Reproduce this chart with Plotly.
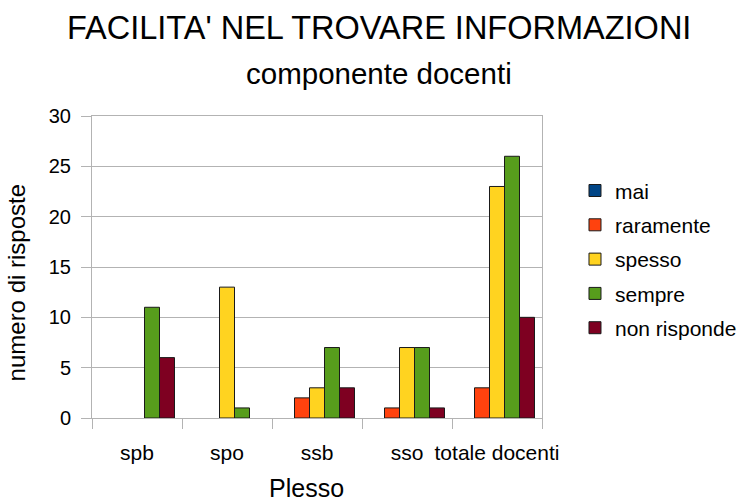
import plotly.graph_objects as go

# categories (plessi) and answers
plessi = ['spb', 'spo', 'ssb', 'sso', 'totale docenti']
risposte = ['mai', 'raramente', 'spesso', 'sempre', 'non risponde']

mai = [0, 0, 0, 0, 0]
raramente = [0, 0, 2, 1, 3]
spesso = [0, 13, 3, 7, 23]
sempre = [11, 1, 7, 7, 26]
non_risponde = [6, 0, 3, 1, 10]

valori = [mai, raramente, spesso, sempre, non_risponde]
colori = ['#004586', '#ff420e', '#ffd320', '#579d1c', '#7e0021']

FONT = 'Liberation Sans, Arial, sans-serif'
GRIGIO = '#b3b3b3'

fig = go.Figure()

for nome, serie, colore in zip(risposte, valori, colori):
    # zero answers draw no bar at all (no outline on the axis)
    y = [v if v else None for v in serie]
    fig.add_trace(go.Bar(
        x=plessi, y=y, name=nome, legendgroup=nome,
        marker=dict(color=colore, line=dict(color='#1a1a1a', width=1)),
    ))

fig.update_layout(
    width=742, height=501,
    margin=dict(l=92, r=200, t=116, b=83, autoexpand=False),
    paper_bgcolor='white', plot_bgcolor='white',
    font=dict(family=FONT, color='black', size=20),
    barmode='group', bargap=0.1667, bargroupgap=0,
    showlegend=True,
    legend=dict(
        x=1.0733, y=0.82, xanchor='left', yanchor='top',
        font=dict(size=21), traceorder='grouped', tracegroupgap=4,
        bgcolor='rgba(0,0,0,0)',
    ),
    xaxis=dict(
        showline=True, linecolor=GRIGIO, linewidth=1, mirror=True,
        ticks='outside', ticklen=10, tickcolor=GRIGIO,
        tickson='boundaries', showgrid=False, tickangle=0, automargin=False,
        tickfont=dict(size=21), ticklabelstandoff=16,
    ),
    yaxis=dict(
        range=[0, 30], dtick=5, automargin=False,
        showline=True, linecolor=GRIGIO, linewidth=1, mirror=True,
        ticks='outside', ticklen=10, tickcolor=GRIGIO,
        showgrid=True, gridcolor=GRIGIO, gridwidth=1, zeroline=False,
        tickfont=dict(size=20), ticklabelstandoff=6,
    ),
    annotations=[
        dict(text="FACILITA' NEL TROVARE INFORMAZIONI", x=0.638, y=1.29,
             xref='paper', yref='paper', showarrow=False,
             xanchor='center', yanchor='middle', font=dict(size=32.5)),
        dict(text='componente docenti', x=0.638, y=1.14,
             xref='paper', yref='paper', showarrow=False,
             xanchor='center', yanchor='middle', font=dict(size=29.5)),
        dict(text='numero di risposte', x=-0.168, y=0.447,
             xref='paper', yref='paper', showarrow=False, textangle=-90,
             xanchor='center', yanchor='middle', font=dict(size=24)),
        dict(text='Plesso', x=0.476, y=-0.232,
             xref='paper', yref='paper', showarrow=False,
             xanchor='center', yanchor='middle', font=dict(size=25)),
    ],
)

# drop the page's default body margin so the figure sits at (0, 0)
fig.write_html('out.html', config={'displayModeBar': False},
               post_script="document.body.style.margin='0';")
